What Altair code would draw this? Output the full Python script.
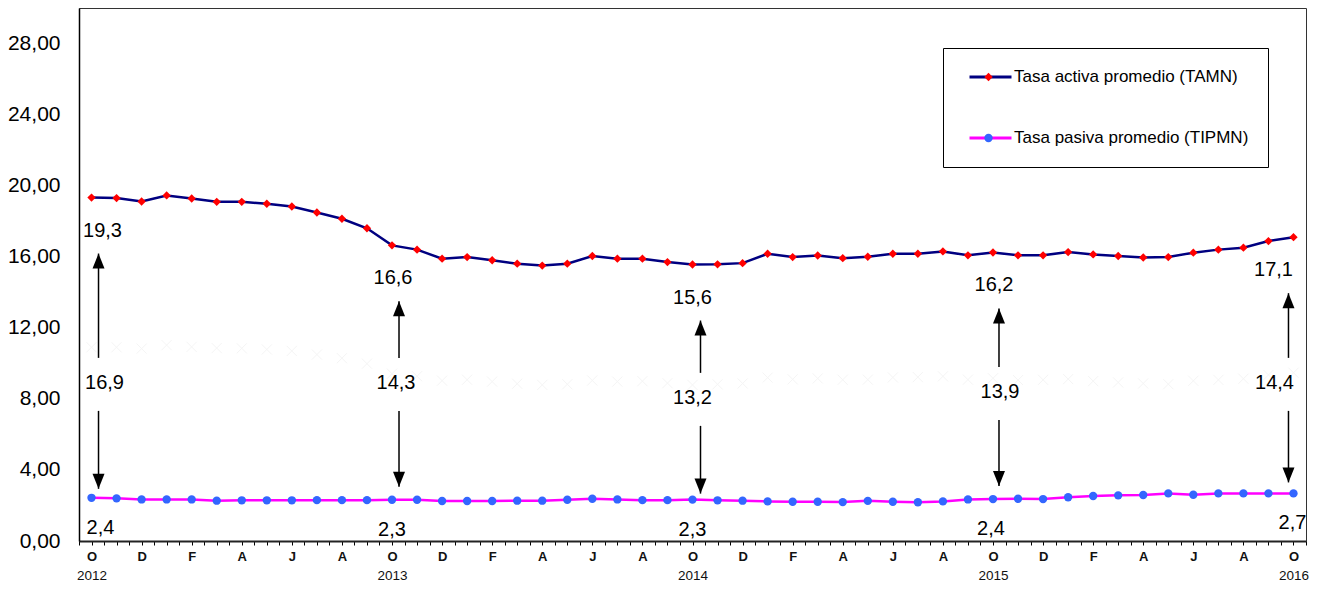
import altair as alt
import pandas as pd

# ---------------- data ----------------
month_letters = ["E", "F", "M", "A", "M", "J", "J", "A", "S", "O", "N", "D"]
start_month = 10          # octubre 2012
year_labels = ["2012", "2013", "2014", "2015", "2016"]
serie_names = ["Tasa activa promedio (TAMN)", "Tasa pasiva promedio (TIPMN)"]

tamn = [19.33, 19.30, 19.11, 19.45, 19.28, 19.09, 19.09, 18.98, 18.83, 18.49,
        18.14, 17.60, 16.64, 16.40, 15.89, 15.98, 15.80, 15.61, 15.50, 15.61,
        16.04, 15.89, 15.89, 15.70, 15.56, 15.57, 15.64, 16.17, 15.98, 16.07,
        15.92, 16.00, 16.17, 16.17, 16.30, 16.08, 16.24, 16.08, 16.08, 16.26,
        16.13, 16.04, 15.96, 15.98, 16.23, 16.40, 16.51, 16.88, 17.10]
tipmn = [2.43, 2.40, 2.34, 2.34, 2.34, 2.27, 2.29, 2.29, 2.29, 2.30,
         2.30, 2.30, 2.32, 2.32, 2.25, 2.25, 2.25, 2.27, 2.27, 2.32,
         2.38, 2.34, 2.30, 2.30, 2.33, 2.29, 2.27, 2.23, 2.21, 2.21,
         2.19, 2.26, 2.21, 2.18, 2.23, 2.34, 2.36, 2.38, 2.36, 2.46,
         2.53, 2.57, 2.59, 2.68, 2.60, 2.68, 2.68, 2.68, 2.68]
highlight_idx = [0, 12, 24, 36, 48]

# ---------------- layout / style ----------------
W, H = 1227, 533
n = len(tamn)
X_DOMAIN = [-0.5, n - 0.5]
Y_DOMAIN = [0, 30]
Y2_DOMAIN = [-2, 50]
PX_X = W / (X_DOMAIN[1] - X_DOMAIN[0])
PX_Y = H / (Y_DOMAIN[1] - Y_DOMAIN[0])
FONT = "Liberation Sans, Arial"

ARROW_DX = [7, 7, 8, 6, -5]
TOP_DX = [11, 1, 0, 1, -20]
MID_DX = [13, 4, 0, 7, -19]
MID_DY = [0, 0, 15, 9, 0]      # px below the spread-label row
BOT_DX = [9, 0, 0, -2, -1]
BOT_TIP_GAP = [9, 13, 6, 13, 11]   # px above TIPMN point
TOP_TIP_GAP = 56      # px below TAMN point
MID_LABEL_Y = 8.9     # spread label row (value units)
GAP_UP, GAP_DN = 25, 28

LEG_X, LEG_Y = 864, 40

def fmt(v):
    return f"{v:.1f}".replace(".", ",")

df_lines = pd.DataFrame({
    "x": list(range(n)) * 2,
    "y": tamn + tipmn,
    "serie": [serie_names[0]] * n + [serie_names[1]] * n,
})
df_spread = pd.DataFrame({"x": list(range(n)),
                          "y": [a - b for a, b in zip(tamn, tipmn)]})

rows = []
for k, i in enumerate(highlight_idx):
    a, p = tamn[i], tipmn[i]
    ax = i + ARROW_DX[k] / PX_X
    my = MID_LABEL_Y - MID_DY[k] / PX_Y
    rows.append(dict(
        ax=ax,
        top_tip=a - TOP_TIP_GAP / PX_Y,
        up_end=my + GAP_UP / PX_Y,
        dn_start=my - GAP_DN / PX_Y,
        bot_tip=p + BOT_TIP_GAP[k] / PX_Y,
        tx=i + TOP_DX[k] / PX_X, ty=a, ttext=fmt(a),
        mx=i + MID_DX[k] / PX_X, my=my, mtext=fmt(a - p),
        bx=i + BOT_DX[k] / PX_X, by=p, btext=fmt(p),
    ))
df_ann = pd.DataFrame(rows)

xs = alt.Scale(domain=X_DOMAIN, nice=False, zero=False)
ys = alt.Scale(domain=Y_DOMAIN, nice=False, zero=False)

def X(field):
    return alt.X(f"{field}:Q", scale=xs, axis=None)

def Y(field):
    return alt.Y(f"{field}:Q", scale=ys, axis=None)

month_expr = ("datum.value % 2 === 0 ? "
              + str(month_letters) + f"[(datum.value + {start_month - 1}) % 12] : ''")
year_expr = str(year_labels) + "[floor(datum.value / 12)]"

x_month_axis = alt.Axis(
    values=[X_DOMAIN[0] + 0.5 * k for k in range(2 * n + 1)],
    labelExpr=month_expr, labelOverlap=False, labelFlush=False,
    labelFont=FONT, labelFontSize=13, labelFontWeight="bold", labelColor="#111",
    labelPadding=5, tickSize=4, tickColor="black", tickWidth=1,
    domainColor="#222", domainWidth=2, grid=False, title=None, orient="bottom",
)
x_year_axis = alt.Axis(
    values=[0, 12, 24, 36, 48], labelExpr=year_expr, labelOverlap=False,
    labelFlush=False, labelFont=FONT, labelFontSize=13.5, labelColor="#111",
    labelPadding=27, ticks=False, tickSize=0, domain=False, grid=False,
    title=None, orient="bottom",
)
y_axis = alt.Axis(
    values=list(range(0, 29, 4)),
    labelExpr="replace(format(datum.value, '.2f'), '.', ',')",
    labelFont=FONT, labelFontSize=21, labelColor="black", labelPadding=19,
    ticks=False, tickSize=0, domainColor="black", domainWidth=1.5,
    grid=False, title=None,
)

ghost = alt.Chart(df_spread).mark_point(
    shape="M-1,-1L1,1M-1,1L1,-1", size=100, color="#f2f2f2", strokeWidth=1, filled=False
).encode(
    x=X("x"),
    y=alt.Y("y:Q", scale=alt.Scale(domain=Y2_DOMAIN, nice=False, zero=False), axis=None),
)

lines = alt.Chart(df_lines).mark_line(strokeWidth=2.5).encode(
    x=alt.X("x:Q", scale=xs, axis=x_month_axis),
    y=alt.Y("y:Q", scale=ys, axis=y_axis),
    stroke=alt.Stroke("serie:N", sort=serie_names,
                      scale=alt.Scale(domain=serie_names, range=["#000080", "#ff00ff"]),
                      legend=alt.Legend(orient="none", legendX=LEG_X, legendY=LEG_Y, title=None,
                                        symbolType="stroke", symbolStrokeWidth=3,
                                        symbolSize=1764, symbolOffset=6, clipHeight=20,
                                        labelFont=FONT, labelFontSize=17,
                                        labelColor="black", labelOffset=1,
                                        strokeColor="black", padding=19, rowPadding=41,
                                        labelLimit=400)),
    detail="serie:N",
)

pt_legend = alt.Legend(orient="none", legendX=LEG_X + 12, legendY=LEG_Y, title=None,
                       symbolSize=70, symbolStrokeWidth=0, symbolOffset=6, clipHeight=20,
                       labelFont=FONT, labelFontSize=17, labelExpr="''",
                       padding=19, rowPadding=41, labelLimit=400)
points = alt.Chart(df_lines).mark_point(filled=True, size=70, opacity=1, strokeWidth=0).encode(
    x=X("x"), y=Y("y"),
    fill=alt.Fill("serie:N", sort=serie_names,
                  scale=alt.Scale(domain=serie_names, range=["#ff0000", "#3366ff"]),
                  legend=pt_legend),
    shape=alt.Shape("serie:N", sort=serie_names,
                    scale=alt.Scale(domain=serie_names, range=["diamond", "circle"]),
                    legend=pt_legend),
)

base = alt.Chart(df_ann)
rule_up = base.mark_rule(color="black", strokeWidth=1.5).encode(
    x=X("ax"), y=Y("top_tip"), y2="up_end")
rule_dn = base.mark_rule(color="black", strokeWidth=1.5).encode(
    x=X("ax"), y=Y("dn_start"), y2="bot_tip")
head_up = base.mark_point(shape="M-0.8,2L0,0L0.8,2Z", size=225, filled=True,
                          color="black", opacity=1, strokeWidth=0).encode(
    x=X("ax"), y=Y("top_tip"))
head_dn = base.mark_point(shape="M-0.8,-2L0,0L0.8,-2Z", size=225, filled=True,
                          color="black", opacity=1, strokeWidth=0).encode(
    x=X("ax"), y=Y("bot_tip"))

txt_style = dict(font=FONT, fontSize=20, color="black", baseline="middle", align="center")
top_txt = base.mark_text(dy=33, **txt_style).encode(x=X("tx"), y=Y("ty"), text="ttext:N")
mid_txt = base.mark_text(**txt_style).encode(x=X("mx"), y=Y("my"), text="mtext:N")
bot_txt = base.mark_text(dy=30, **txt_style).encode(
    x=alt.X("bx:Q", scale=xs, axis=x_year_axis), y=Y("by"), text="btext:N")

chart = alt.layer(
    ghost, lines, points, rule_up, rule_dn, head_up, head_dn, top_txt, mid_txt, bot_txt
).resolve_scale(
    y="independent", stroke="independent", fill="independent", shape="independent"
).resolve_axis(
    x="independent"
).properties(
    width=W, height=H,
    autosize=alt.AutoSizeParams(type="none"),
    padding={"left": 71, "top": 0, "right": 5, "bottom": 55},
    background="white",
).configure_view(stroke="#333", strokeWidth=1)

chart.save("out.html", embed_options={"renderer": "svg", "actions": False})
